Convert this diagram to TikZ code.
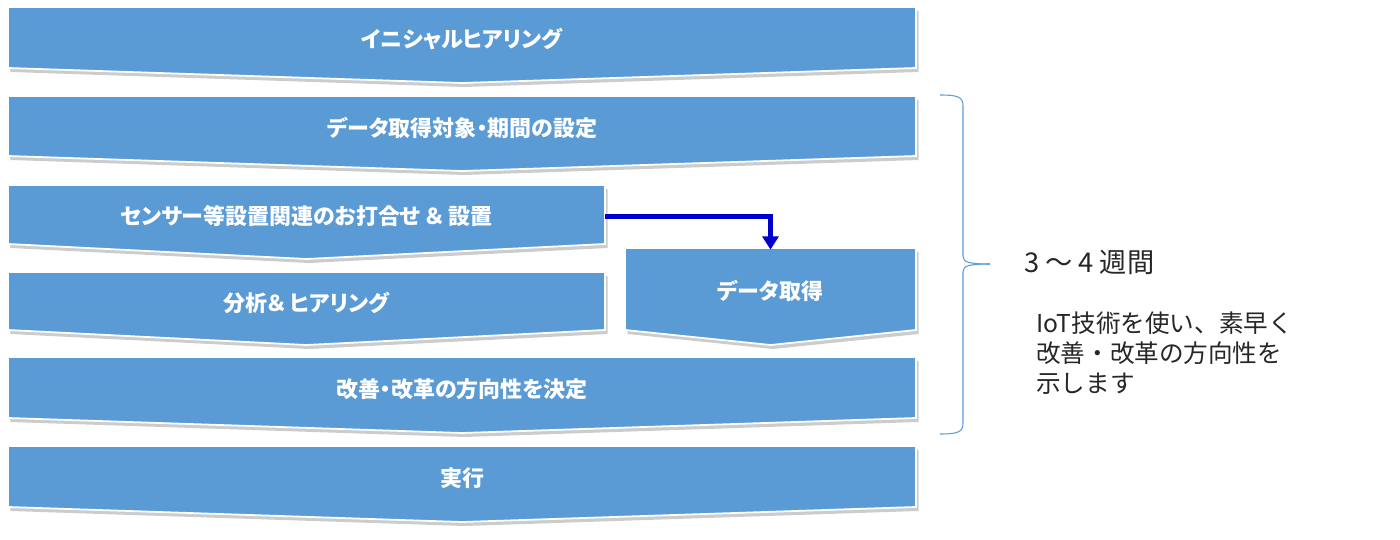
\documentclass[tikz,border=0pt]{standalone}
\usepackage{fontspec}
\usetikzlibrary{arrows.meta,positioning,shadows}
\newfontfamily\jpbox{Noto Sans CJK JP}[RawFeature={+palt}]
\newfontfamily\jptext{Noto Sans CJK JP}
\definecolor{stepblue}{RGB}{91,155,213}
\definecolor{flowblue}{RGB}{0,0,204}
\definecolor{notegray}{RGB}{38,38,38}

\begin{document}
\begin{tikzpicture}[x=0.02cm, y=-0.02cm,
    stepshape/.style={fill=stepblue, draw=white, line width=1pt,
        drop shadow={shadow xshift=0.05cm, shadow yshift=-0.08cm, opacity=0.4}},
    steplabel/.style={text=white, inner sep=0pt,
        font=\jpbox\bfseries\fontsize{12.5}{15}\selectfont},
    flow/.style={flowblue, line width=2.6pt, -{Triangle[width=9pt,length=7.5pt]}}]

    \useasboundingbox (0,0) rectangle (1400,540);

    % process steps (pentagon arrows pointing down)
    \foreach \name/\xl/\xr/\yt/\yb/\txt in {
        init/8/916/7/68/イニシャルヒアリング,
        target/8/916/96/156/データ取得対象・期間の設定,
        sensor/8/605/185/244/センサー等設置関連のお打合せ ＆ 設置,
        analysis/8/605/272/330/分析＆ ヒアリング,
        data/625/916/248/330/データ取得,
        decide/8/916/357/418/改善・改革の方向性を決定,
        run/8/916/446/507/実行} {
        \pgfmathsetmacro{\bw}{(\xr-\xl)*0.02}
        \pgfmathsetmacro{\bh}{(\yb-\yt)*0.02}
        \path[stepshape] (\xl,\yt) -- (\xr,\yt) -- (\xr,\yb)
            -- ({(\xl+\xr)/2},\yb+15) -- (\xl,\yb) -- cycle;
        \node[steplabel, minimum width=\bw cm, minimum height=\bh cm]
            (\name) at ({(\xl+\xr)/2},{(\yt+\yb)/2+2}) {\txt};
    }

    % sensor installation leads to data acquisition
    \draw[flow] (sensor.east) -| (data.north);

    % brace over the analysis phase
    \draw[stepblue, line width=0.6pt]
        (940,95) .. controls (958,95) and (963,97) .. (963,106) -- (963,256)
        .. controls (963,262) and (968,264) .. (990,264);
    \draw[stepblue, line width=0.6pt]
        (940,434) .. controls (958,434) and (963,432) .. (963,423) -- (963,272)
        .. controls (963,266) and (968,264) .. (990,264);

    \node[anchor=west, text=notegray, font=\jptext\fontsize{15.5}{18}\selectfont]
        (weeks) at (1018,262) {3 ～ 4 週間};
    \node[anchor=west, align=left, text=notegray,
          font=\jptext\fontsize{14}{17}\selectfont]
        (note) at (1030,353) {IoT技術を使い、素早く\\改善・改革の方向性を\\示します};

\end{tikzpicture}
\end{document}
